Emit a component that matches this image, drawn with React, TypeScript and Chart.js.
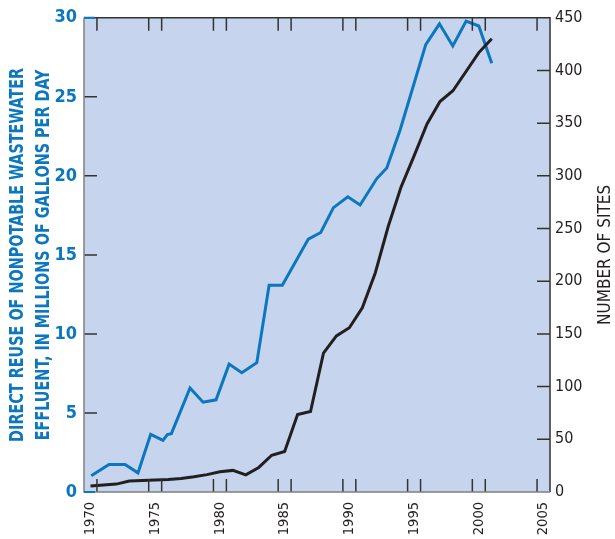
import React, { useEffect, useRef } from "react";
import { Chart, registerables } from "chart.js";

Chart.register(...registerables);

// ---- data ----
const yearLabels = [1970, 1975, 1980, 1985, 1990, 1995, 2000, 2005];
const flowTicks = [0, 5, 10, 15, 20, 25, 30];
const siteTicks = [0, 50, 100, 150, 200, 250, 300, 350, 400, 450];

// Direct reuse of nonpotable wastewater effluent (Mgal/d)
const flowYears = [
  1970.06, 1971.43, 1972.67, 1973.67, 1974.65, 1975.6, 1975.94, 1976.25, 1977.69,
  1978.7, 1979.7, 1980.71, 1981.69, 1982.85, 1983.8, 1984.82, 1986.83, 1987.79,
  1988.77, 1989.88, 1990.83, 1992.12, 1992.89, 1993.92, 1995.9, 1996.96, 1997.99,
  1999.02, 2000.0, 2001.0,
];
const flowValues = [
  1.03, 1.74, 1.74, 1.21, 3.65, 3.27, 3.63, 3.69, 6.58,
  5.68, 5.83, 8.09, 7.55, 8.18, 13.08, 13.08, 16.0, 16.42,
  17.99, 18.68, 18.16, 19.83, 20.5, 22.9, 28.3, 29.62, 28.22,
  29.79, 29.48, 27.13,
];

// Number of sites
const siteYears = [
  1970, 1971, 1972, 1973, 1974, 1975, 1976, 1977, 1978, 1979, 1980, 1981, 1982,
  1983, 1984, 1985, 1986, 1987, 1988, 1989, 1990, 1991, 1992, 1993, 1994, 1995,
  1996, 1997, 1998, 1999, 2000, 2001,
];
const siteValues = [
  5.7, 6.6, 7.5, 10.4, 11.0, 11.3, 11.8, 12.8, 14.4, 16.5, 19.2, 20.5, 16.3,
  23.3, 34.9, 38.4, 73.6, 76.4, 131.8, 148.1, 155.9, 174.8, 207.8, 251.9, 289.6, 319.0,
  349.3, 370.5, 380.8, 398.8, 417.0, 430.2,
];

const leftTitle = [
  "DIRECT REUSE OF NONPOTABLE WASTEWATER",
  "EFFLUENT, IN MILLIONS OF GALLONS PER DAY",
];
const rightTitle = "NUMBER OF SITES";

// ---- styles ----
const NARROW = '"DejaVu Sans Condensed", "Liberation Sans Narrow", sans-serif';
const BLUE = "#0B77BF";
const BLACK = "#231F20";
const BG = "#C6D5ED";
const TICK = "#333333";
const TL = 13;

function drawSqueezed(
  ctx: CanvasRenderingContext2D,
  text: string,
  cx: number,
  cy: number,
  targetWidth: number | null,
  squeeze: number
) {
  const w = ctx.measureText(text).width;
  const s = targetWidth ? targetWidth / w : squeeze;
  ctx.save();
  ctx.translate(cx, cy);
  ctx.rotate(-Math.PI / 2);
  ctx.scale(s, 1);
  ctx.fillText(text, 0, 0);
  ctx.restore();
  return s;
}

export default function App() {
  const ref = useRef<HTMLCanvasElement | null>(null);

  useEffect(() => {
    document.body.style.margin = "0";
    const canvas = ref.current;
    if (!canvas) return;

    const decor = {
      id: "decor",
      beforeDraw(chart: any) {
        const { ctx, chartArea: a } = chart;
        ctx.save();
        ctx.fillStyle = BG;
        ctx.fillRect(a.left, a.top, a.right - a.left, a.bottom - a.top);
        ctx.restore();
      },
      afterDatasetsDraw(chart: any) {
        const { ctx, chartArea: a, scales } = chart;
        const sx = scales.x;
        const yl = scales.y;
        const yr = scales.y1;
        ctx.save();
        ctx.lineWidth = 1.5;
        ctx.strokeStyle = TICK;
        ctx.beginPath();
        for (const yv of yearLabels) {
          for (const d of [-0.5, 0.5]) {
            const px = sx.getPixelForValue(yv + d);
            if (px <= a.left + 1 || px >= a.right - 1) continue;
            ctx.moveTo(px, a.bottom);
            ctx.lineTo(px, a.bottom - TL);
            ctx.moveTo(px, a.top);
            ctx.lineTo(px, a.top + TL);
          }
        }
        for (const v of flowTicks) {
          if (v === flowTicks[0] || v === flowTicks[flowTicks.length - 1]) continue;
          const py = yl.getPixelForValue(v);
          ctx.moveTo(a.left, py);
          ctx.lineTo(a.left + TL, py);
        }
        for (const v of siteTicks) {
          if (v === siteTicks[0] || v === siteTicks[siteTicks.length - 1]) continue;
          const py = yr.getPixelForValue(v);
          ctx.moveTo(a.right, py);
          ctx.lineTo(a.right - TL, py);
        }
        ctx.stroke();

        // frame
        ctx.lineWidth = 1.5;
        ctx.strokeStyle = "#333333";
        ctx.beginPath();
        ctx.moveTo(a.left, a.top);
        ctx.lineTo(a.right, a.top);
        ctx.lineTo(a.right, a.bottom);
        ctx.stroke();
        ctx.strokeStyle = "#808080";
        ctx.beginPath();
        ctx.moveTo(a.left, a.top);
        ctx.lineTo(a.left, a.bottom);
        ctx.lineTo(a.right, a.bottom);
        ctx.stroke();

        // blue end ticks of the left axis
        ctx.strokeStyle = BLUE;
        ctx.lineWidth = 2;
        ctx.beginPath();
        for (const v of [flowTicks[0], flowTicks[flowTicks.length - 1]]) {
          const py = yl.getPixelForValue(v);
          ctx.moveTo(a.left, py);
          ctx.lineTo(a.left + 11, py);
        }
        ctx.stroke();
        ctx.restore();
      },
      afterDraw(chart: any) {
        const { ctx, chartArea: a } = chart;
        const cy = (a.top + a.bottom) / 2;
        ctx.save();
        ctx.textAlign = "center";
        ctx.textBaseline = "middle";
        // left (blue, bold, two lines)
        ctx.fillStyle = BLUE;
        ctx.font = `bold 20px ${NARROW}`;
        const s = drawSqueezed(ctx, leftTitle[0], 18, cy, 374, 1);
        drawSqueezed(ctx, leftTitle[1], 43.5, cy, null, s);
        // right
        ctx.fillStyle = BLACK;
        ctx.font = `18px ${NARROW}`;
        drawSqueezed(ctx, rightTitle, 605, cy, 140, 1);
        ctx.restore();
      },
    };

    const chart = new Chart(canvas, {
      type: "line",
      data: {
        datasets: [
          {
            label: "Sites",
            data: siteYears.map((yv, i) => ({ x: yv, y: siteValues[i] })),
            yAxisID: "y1",
            borderColor: BLACK,
            borderWidth: 3,
            pointRadius: 0,
            tension: 0,
            fill: false,
          },
          {
            label: "Flow",
            data: flowYears.map((yv, i) => ({ x: yv, y: flowValues[i] })),
            yAxisID: "y",
            borderColor: BLUE,
            borderWidth: 3,
            pointRadius: 0,
            tension: 0,
            fill: false,
          },
        ],
      },
      options: {
        animation: false,
        responsive: true,
        maintainAspectRatio: false,
        layout: { padding: { top: 15, left: 0, right: 0, bottom: 0 } },
        plugins: {
          legend: { display: false },
          tooltip: { enabled: false },
        },
        scales: {
          x: {
            type: "linear",
            min: yearLabels[0] - 0.5,
            max: yearLabels[yearLabels.length - 1] + 0.5,
            grid: { display: false, drawTicks: false },
            border: { display: false },
            afterBuildTicks: (s: any) => {
              s.ticks = yearLabels.map((v) => ({ value: v }));
            },
            afterFit: (s: any) => {
              s.height = 47;
            },
            ticks: {
              autoSkip: false,
              maxRotation: 90,
              minRotation: 90,
              padding: 10,
              color: BLACK,
              font: { family: NARROW, size: 14.5 },
              callback: (v: any) => String(v),
            },
          },
          y: {
            type: "linear",
            position: "left",
            min: flowTicks[0],
            max: flowTicks[flowTicks.length - 1],
            grid: { display: false, drawTicks: false },
            border: { display: false },
            afterBuildTicks: (s: any) => {
              s.ticks = flowTicks.map((v) => ({ value: v }));
            },
            afterFit: (s: any) => {
              s.width = 84;
            },
            ticks: {
              padding: 7,
              color: BLUE,
              font: { family: NARROW, size: 18, weight: "bold" },
              callback: (v: any) => String(v),
            },
          },
          y1: {
            type: "linear",
            position: "right",
            min: siteTicks[0],
            max: siteTicks[siteTicks.length - 1],
            grid: { display: false, drawTicks: false },
            border: { display: false },
            afterBuildTicks: (s: any) => {
              s.ticks = siteTicks.map((v) => ({ value: v }));
            },
            afterFit: (s: any) => {
              s.width = 65;
            },
            ticks: {
              padding: 5,
              color: BLACK,
              font: { family: NARROW, size: 16 },
              callback: (v: any) => String(v),
            },
          },
        },
      },
      plugins: [decor],
    });

    return () => {
      chart.destroy();
    };
  }, []);

  return (
    <div style={{ position: "relative", width: 615, height: 539 }}>
      <canvas ref={ref} />
    </div>
  );
}
